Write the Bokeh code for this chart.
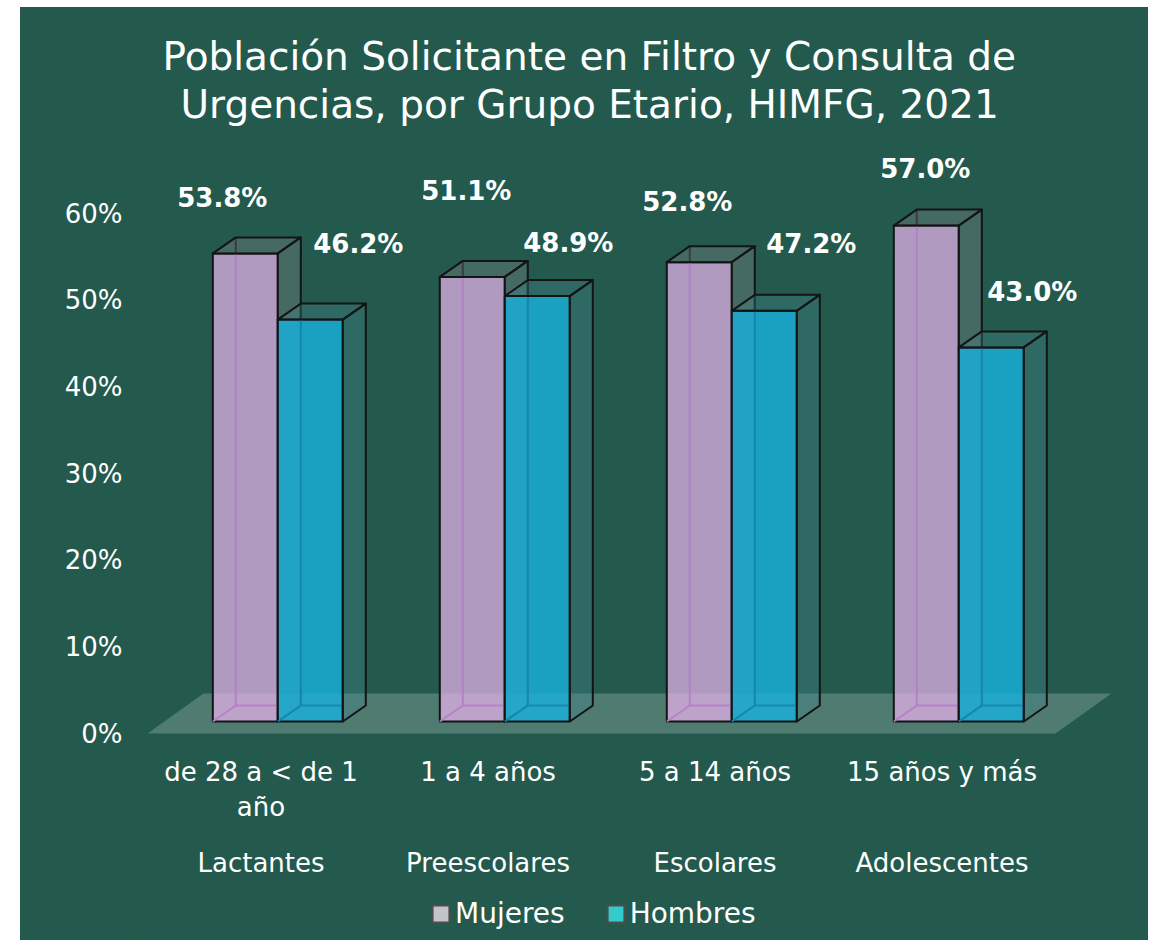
import textwrap
import numpy as np
from bokeh.plotting import figure
from bokeh.models import (Range1d, LinearAxis, FixedTicker, ColumnDataSource,
                          Legend, LegendItem, Spacer, Title)
from bokeh.layouts import row, column
from bokeh.embed import file_html
from bokeh.resources import INLINE
from bokeh.core.properties import value

# ---------------- data ----------------
categories = ["de 28 a < de 1 año", "1 a 4 años", "5 a 14 años", "15 años y más"]
groups = ["Lactantes", "Preescolares", "Escolares", "Adolescentes"]
series_names = ["Mujeres", "Hombres"]
mujeres = [53.8, 51.1, 52.8, 57.0]
hombres = [46.2, 48.9, 47.2, 43.0]
y_ticks = [0, 10, 20, 30, 40, 50, 60]
y_tick_labels = ["0%", "10%", "20%", "30%", "40%", "50%", "60%"]
title_lines = ["Población Solicitante en Filtro y Consulta de",
               "Urgencias, por Grupo Etario, HIMFG, 2021"]

# ---------------- style / geometry ----------------
FONT = "DejaVu Sans"
BG = "#245a4d"
WHITE = "#ffffff"
EDGE = "#141414"
FRONT_COLORS = ["#ecb5f1", "#18b2dd"]
FRONT_ALPHA = [0.7, 0.8]
FACE_COLORS = ["#85888c", "#46888f"]
FACE_ALPHA = 0.35
INNER_COLORS = ["#b47ec6", "#1686ad"]
LEGEND_COLORS = ["#c1c4c8", "#33cccc"]

PX_X = 227.0          # px per category
PX_Y = 8.7            # px per percentage point (bar front plane)
AX_PX_Y = 520.0 / 60  # px per percentage point (axis labels)
BAR_W = 65 / PX_X
BAR_DX = 23 / PX_X
BAR_DY = 16 / PX_Y
FLOOR_DX = 56 / PX_X
FLOOR_DY = 40 / PX_Y
FLOOR_Y = -12 / PX_Y
BAR_SHIFT = 0.3 * FLOOR_DX

# frame, page px: left 140, right 1120, top 130, bottom 940 (figure at page 20, 7)
X0 = -0.5 - 7 / PX_X
X1 = -0.5 + 973 / PX_X
Y0 = -(940 - 721) / PX_Y
Y1 = (721 - 130) / PX_Y
YA0 = -(940 - 733) / AX_PX_Y
YA1 = (733 - 130) / AX_PX_Y

LABEL_DX = [[-23, -6, -12, -1], [48, 31, 47, 41]]
LABEL_DY = [[-55, -86, -60, -57], [-76, -53, -67, -55]]

p = figure(width=1128, height=933, x_range=Range1d(X0, X1), y_range=Range1d(Y0, Y1),
           output_backend="svg", toolbar_location=None, y_axis_location=None,
           min_border_left=120, min_border_right=28, min_border_top=123,
           min_border_bottom=0, background_fill_color=BG, border_fill_color=BG)
p.outline_line_color = None
p.grid.visible = False
p.styles = {"background-color": BG}

# title: two lines, nearest-to-frame added first
for txt, off, so in [(title_lines[1], 40, 8), (title_lines[0], 22, -6)]:
    t = Title(text=txt, align="left", offset=off, standoff=so, text_font=FONT,
              text_font_size="39px", text_font_style="normal", text_color=WHITE)
    p.add_layout(t, "above")


def style_axis(ax, standoff, size="26px"):
    ax.axis_line_color = None
    ax.major_tick_line_color = None
    ax.minor_tick_line_color = None
    ax.major_tick_out = 0
    ax.major_tick_in = 0
    ax.major_label_text_color = WHITE
    ax.major_label_text_font = FONT
    ax.major_label_text_font_size = size
    ax.major_label_standoff = standoff


# y axis (labels on floor-front plane)
p.extra_y_ranges = {"pct": Range1d(YA0, YA1), "legend_only": Range1d(1000, 2000)}
yaxis = LinearAxis(y_range_name="pct", ticker=FixedTicker(ticks=y_ticks),
                   major_label_overrides=dict(zip(y_ticks, y_tick_labels)))
style_axis(yaxis, 18)
p.add_layout(yaxis, "left")

# category axes, fixed on the front edge of the floor
cat_pos = list(range(len(categories)))
xaxis = p.xaxis[0]
xaxis.ticker = FixedTicker(ticks=cat_pos)
xaxis.major_label_overrides = {i: textwrap.fill(c, 14) for i, c in zip(cat_pos, categories)}
style_axis(xaxis, 23)
xaxis.major_label_text_line_height = 1.18
xaxis.fixed_location = FLOOR_Y

gaxis = LinearAxis(ticker=FixedTicker(ticks=cat_pos),
                   major_label_overrides={i: g for i, g in zip(cat_pos, groups)})
style_axis(gaxis, 114)
gaxis.fixed_location = FLOOR_Y
p.add_layout(gaxis, "below")

# floor
n = len(categories)
fl = -0.5
fr = n - 0.5
p.patch(x=[fl, fr, fr + FLOOR_DX, fl + FLOOR_DX],
        y=[FLOOR_Y, FLOOR_Y, FLOOR_Y + FLOOR_DY, FLOOR_Y + FLOOR_DY],
        fill_color="white", fill_alpha=0.2, line_color=None)

# bars
idx = np.arange(n)
base = idx + BAR_SHIFT
legend_renderers = []
for s, vals in enumerate([mujeres, hombres]):
    v = np.array(vals, dtype=float)
    if s == 0:
        xl, xr = base - BAR_W, base
    else:
        xl, xr = base, base + BAR_W
    p.quad(left=xl, right=xr, bottom=0, top=v, fill_color=FRONT_COLORS[s],
           fill_alpha=FRONT_ALPHA[s], line_color=EDGE, line_width=2)
    in_xs, in_ys, dk_xs, dk_ys = [], [], [], []
    tx, ty, sx, sy = [], [], [], []
    for a, b, h in zip(xl, xr, v):
        in_xs += [[a + BAR_DX, a + BAR_DX], [a + BAR_DX, b], [a, a + BAR_DX]]
        in_ys += [[BAR_DY, h], [BAR_DY, BAR_DY], [0, BAR_DY]]
        dk_xs.append([a + BAR_DX, a + BAR_DX])
        dk_ys.append([h, h + BAR_DY])
        tx.append([a, b, b + BAR_DX, a + BAR_DX])
        ty.append([h, h, h + BAR_DY, h + BAR_DY])
        sx.append([b, b + BAR_DX, b + BAR_DX, b])
        sy.append([0, BAR_DY, h + BAR_DY, h])
    p.multi_line(xs=in_xs, ys=in_ys, line_color=INNER_COLORS[s], line_width=2, line_alpha=0.9)
    p.multi_line(xs=dk_xs, ys=dk_ys, line_color=EDGE, line_width=2)
    p.patches(xs=tx + sx, ys=ty + sy, fill_color=FACE_COLORS[s], fill_alpha=FACE_ALPHA,
              line_color=EDGE, line_width=2, line_join="round")
    lab = ColumnDataSource(dict(x=(xl + xr) / 2, y=v, t=[f"{x:.1f}%" for x in v],
                                dx=LABEL_DX[s], dy=LABEL_DY[s]))
    p.text(x="x", y="y", text="t", x_offset="dx", y_offset="dy", source=lab,
           text_font=value(FONT), text_font_style="bold", text_font_size="26px",
           text_color=WHITE, text_align="center", text_baseline="middle")
    # legend swatch renderer (same bars, mapped to an off-screen range; legend colours)
    legend_renderers.append(p.quad(left=xl, right=xr, bottom=0, top=v,
                                   y_range_name="legend_only",
                                   fill_color=LEGEND_COLORS[s], line_color="#4d4d4d",
                                   line_width=2))

legend = Legend(items=[LegendItem(label=nm, renderers=[r])
                       for nm, r in zip(series_names, legend_renderers)],
                orientation="horizontal", location=(290, 10), label_text_color=WHITE,
                label_text_font=FONT, label_text_font_size="28px",
                background_fill_alpha=0, border_line_color=None, glyph_width=21,
                glyph_height=21, label_standoff=4, spacing=40, padding=0, margin=0)
p.add_layout(legend)

layout = column(Spacer(width=1148, height=7), row(Spacer(width=20, height=933), p))
open("out.html", "w").write(file_html(layout, INLINE, title="chart"))
